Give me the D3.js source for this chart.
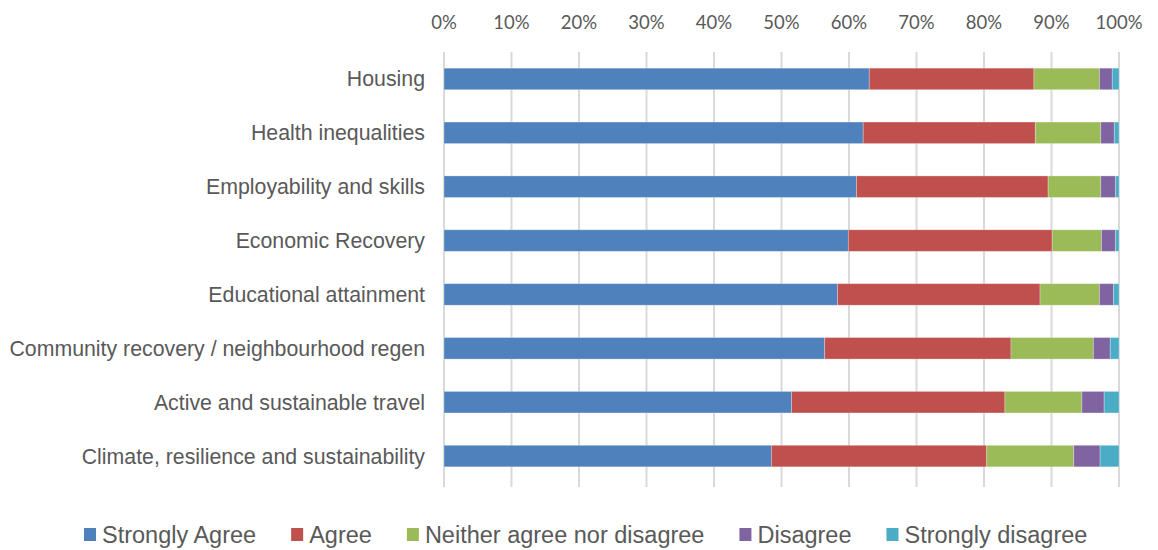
<!DOCTYPE html>
<html>
<head>
<meta charset="utf-8">
<script src="https://cdn.jsdelivr.net/npm/d3@7"></script>
<style>
  html, body { margin: 0; padding: 0; background: #fff; }
  svg { display: block; }
</style>
</head>
<body>
<svg id="chart" width="1158" height="550"></svg>
<script>
const categories = [
  "Housing",
  "Health inequalities",
  "Employability and skills",
  "Economic Recovery",
  "Educational attainment",
  "Community recovery / neighbourhood regen",
  "Active and sustainable travel",
  "Climate, resilience and sustainability"
];
const seriesNames = ["Strongly Agree", "Agree", "Neither agree nor disagree", "Disagree", "Strongly disagree"];
const stronglyAgree = [63.0, 62.1, 61.1, 59.9, 58.3, 56.4, 51.5, 48.5];
const agree         = [24.4, 25.5, 28.4, 30.2, 30.0, 27.6, 31.6, 31.9];
const neither       = [ 9.7,  9.7,  7.8,  7.3,  8.8, 12.2, 11.4, 12.9];
const disagree      = [ 1.9,  2.0,  2.2,  2.1,  2.1,  2.5,  3.3,  3.9];
const stronglyDis   = [ 1.0,  0.7,  0.5,  0.5,  0.8,  1.3,  2.2,  2.8];
const tickValues = [0, 10, 20, 30, 40, 50, 60, 70, 80, 90, 100];
const colors = ["#4F81BD", "#C0504D", "#9BBB59", "#8064A2", "#4BACC6"];

const svg = d3.select("#chart");
const plotLeft = 444, plotRight = 1119, plotTop = 52, plotBottom = 483;

const rows = categories.map((c, i) => ({
  cat: c,
  s0: stronglyAgree[i], s1: agree[i], s2: neither[i], s3: disagree[i], s4: stronglyDis[i]
}));
const keys = ["s0", "s1", "s2", "s3", "s4"];
const stacked = d3.stack().keys(keys).offset(d3.stackOffsetExpand)(rows);

const x = d3.scaleLinear().domain([0, 1]).range([plotLeft, plotRight]);
const y = d3.scaleBand().domain(categories).range([plotTop, plotBottom]).paddingInner(0.6).paddingOuter(0.3);

// gridlines
svg.append("g").selectAll("line").data(tickValues).join("line")
  .attr("x1", d => x(d / 100)).attr("x2", d => x(d / 100))
  .attr("y1", plotTop).attr("y2", plotBottom + 4)
  .attr("stroke", "#d9d9d9").attr("stroke-width", 2);

// top axis labels
svg.append("g").selectAll("text").data(tickValues).join("text")
  .attr("x", d => x(d / 100)).attr("y", 29)
  .attr("text-anchor", "middle")
  .attr("font-family", "Lato, 'Open Sans', sans-serif")
  .attr("font-size", 18.5)
  .attr("fill", "#595959")
  .text(d => d + "%");

// bars
svg.append("g").selectAll("g").data(stacked).join("g")
  .attr("fill", (d, i) => colors[i])
  .selectAll("rect").data(d => d).join("rect")
  .attr("x", d => x(d[0]))
  .attr("width", d => x(d[1]) - x(d[0]))
  .attr("y", d => y(d.data.cat))
  .attr("height", y.bandwidth())
  .attr("stroke", "#ffffff").attr("stroke-opacity", 0.35).attr("stroke-width", 0.8);

// category labels
svg.append("g").selectAll("text").data(categories).join("text")
  .attr("x", 425)
  .attr("y", d => y(d) + y.bandwidth() / 2)
  .attr("dy", "0.35em")
  .attr("text-anchor", "end")
  .attr("font-family", "'Liberation Sans', Arial, sans-serif")
  .attr("font-size", 21.3)
  .attr("fill", "#595959")
  .text(d => d);

// legend
const lg = svg.append("g");
let lx = 84;
seriesNames.forEach((name, i) => {
  lg.append("rect").attr("x", lx).attr("y", 528).attr("width", 12).attr("height", 13).attr("fill", colors[i]);
  const t = lg.append("text")
    .attr("x", lx + 18).attr("y", 535).attr("dy", "0.35em")
    .attr("font-family", "'Liberation Sans', Arial, sans-serif")
    .attr("font-size", 23.5)
    .attr("fill", "#595959")
    .text(name);
  lx += 18 + t.node().getComputedTextLength() + 35;
});
</script>
</body>
</html>
